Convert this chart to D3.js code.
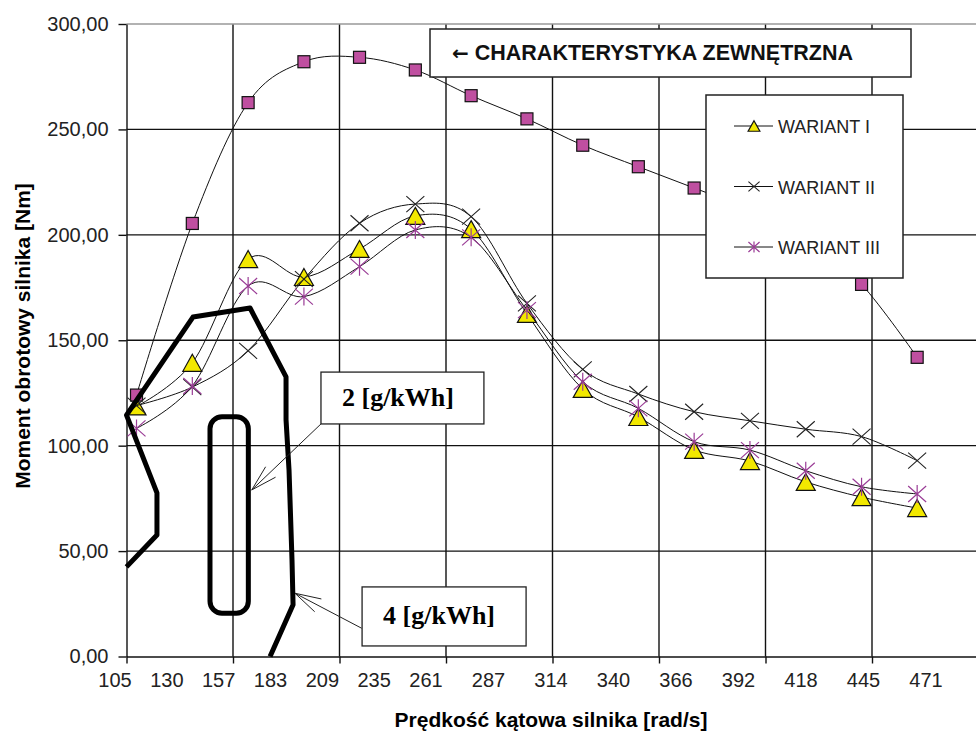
<!DOCTYPE html>
<html lang="pl">
<head>
<meta charset="UTF-8">
<title>Moment obrotowy silnika</title>
<script src="https://cdn.jsdelivr.net/npm/d3@7"></script>
<style>
  body { margin: 0; background: #fff; }
  svg { display: block; font-family: "Liberation Sans", Arial, sans-serif; }
</style>
</head>
<body>
<script>
// predkosc katowa [rad/s] (1000..4500 obr/min)
const speeds = [104.7, 130.9, 157.1, 183.3, 209.4, 235.6, 261.8, 288.0, 314.2, 340.3, 366.5, 392.7, 418.9, 445.1, 471.2];
const speedLabels = ["105", "130", "157", "183", "209", "235", "261", "287", "314", "340", "366", "392", "418", "445", "471"];

// moment obrotowy [Nm]
const zewnetrzna = [124.0, 205.4, 262.7, 282.1, 284.2, 278.2, 266.0, 255.0, 242.5, 232.3, 222.2, 212.0, 198.5, 176.5, 141.9];
const wariant1 = [118.6, 139.3, 188.5, 180.0, 193.3, 209.0, 202.7, 162.5, 126.9, 113.6, 98.0, 92.7, 82.8, 75.6, 70.4];
const wariant2 = [119.0, 127.8, 145.0, 179.0, 205.5, 214.6, 208.6, 167.5, 136.2, 124.5, 116.1, 111.8, 107.8, 104.3, 92.9];
const wariant3 = [108.2, 128.3, 175.7, 170.7, 184.9, 202.3, 198.8, 164.3, 130.3, 117.7, 101.9, 97.9, 88.1, 80.5, 77.1];

const yTicks = [0, 50, 100, 150, 200, 250, 300];
const xGrid = [100, 150, 200, 250, 300, 350, 400, 450];

// izolinie zuzycia [rad/s, Nm]
const iso4 = [[100, 42.5], [114.3, 57.6], [114.3, 77.6], [100, 114.5], [131.2, 161.0], [158.0, 165.3],
              [174.9, 132.6], [174.9, 112.3], [176.3, 88.5], [177.7, 45.8], [178.2, 24.5], [167.4, 0]];
const iso2 = [[139.2, 20.5], [157.2, 113.7]];

// opisy izolinii: ramka [x0, x1, yTop, yBottom], strzalka [start, koniec]
const notes = ["2 [g/kWh]", "4 [g/kWh]"];
const noteBoxes = [[191.3, 267.8, 134.9, 110.3], [210.6, 287.6, 33.0, 5.0]];
const noteArrows = [[[191.3, 110.3], [158.8, 79.0]], [[210.4, 13.4], [179.1, 30.0]]];

const W = 976, H = 731;
const svg = d3.select("body").append("svg").attr("width", W).attr("height", H);

const x = d3.scaleLinear().domain([100, 500]).range([126.5, 978.5]);
const y = d3.scaleLinear().domain([0, 300]).range([656.5, 24]);
const labelX = d3.scaleLinear().domain([0, 6, 14]).range([115, 426, 926]);

const fmt = d3.formatLocale({decimal: ",", thousands: " ", grouping: [3], currency: ["", ""]}).format(".2f");

// siatka
svg.append("g").selectAll("line")
  .data(yTicks.filter(d => d > 0 && d < 300))
  .join("line")
  .attr("x1", x(100)).attr("x2", x(500))
  .attr("y1", d => y(d)).attr("y2", d => y(d))
  .attr("stroke", "#111").attr("stroke-width", 1.4);

svg.append("g").selectAll("line")
  .data(xGrid.slice(1))
  .join("line")
  .attr("x1", d => x(d)).attr("x2", d => x(d))
  .attr("y1", y(0)).attr("y2", y(300))
  .attr("stroke", "#111").attr("stroke-width", 1.4);

svg.append("line")
  .attr("x1", x(100)).attr("x2", x(500))
  .attr("y1", y(300)).attr("y2", y(300))
  .attr("stroke", "#999").attr("stroke-width", 1.5);

// osie
const yAxis = svg.append("g")
  .attr("transform", `translate(${x(100)},0)`)
  .call(d3.axisLeft(y).tickValues(yTicks).tickSize(8).tickSizeOuter(0).tickPadding(10).tickFormat(fmt));
yAxis.select(".domain").attr("stroke", "#111").attr("stroke-width", 1.4);
yAxis.selectAll(".tick line").attr("stroke", "#111").attr("stroke-width", 1.4);
yAxis.selectAll(".tick text").attr("font-size", 20).attr("fill", "#222")
  .attr("font-family", "Liberation Sans, Arial, sans-serif");

const xAxis = svg.append("g")
  .attr("transform", `translate(0,${y(0)})`)
  .call(d3.axisBottom(x).tickValues(xGrid).tickSize(7).tickSizeOuter(0).tickFormat(""));
xAxis.select(".domain").attr("stroke", "#111").attr("stroke-width", 1.4);
xAxis.selectAll(".tick line").attr("stroke", "#111").attr("stroke-width", 1.4);

svg.append("g").selectAll("text")
  .data(speedLabels)
  .join("text")
  .attr("x", (d, i) => labelX(i))
  .attr("y", 687)
  .attr("text-anchor", "middle")
  .attr("font-size", 20).attr("fill", "#222")
  .text(d => d);

// tytuly osi
svg.append("text")
  .attr("transform", `translate(30,336) rotate(-90)`)
  .attr("text-anchor", "middle")
  .attr("font-size", 21).attr("font-weight", "bold")
  .text("Moment obrotowy silnika [Nm]");

svg.append("text")
  .attr("x", 551).attr("y", 727)
  .attr("text-anchor", "middle")
  .attr("font-size", 21).attr("font-weight", "bold")
  .text("Prędkość kątowa silnika [rad/s]");

// markery
function marker(g, type, s) {
  if (type === "square") {
    g.append("rect").attr("x", -6 * s).attr("y", -6 * s).attr("width", 12 * s).attr("height", 12 * s)
      .attr("fill", "#BF4FA0").attr("stroke", "#111").attr("stroke-width", 1.2);
  } else if (type === "triangle") {
    g.append("path")
      .attr("d", `M0,${-8.5 * s}L${9.5 * s},${8.5 * s}L${-9.5 * s},${8.5 * s}Z`)
      .attr("fill", "#F2E800").attr("stroke", "#111").attr("stroke-width", 1.2);
  } else if (type === "cross") {
    g.append("path")
      .attr("d", `M${-9 * s},${-8 * s}L${9 * s},${8 * s}M${-9 * s},${8 * s}L${9 * s},${-8 * s}`)
      .attr("stroke", "#222").attr("stroke-width", 1.1);
  } else {
    g.append("path")
      .attr("d", `M${-9 * s},${-8 * s}L${9 * s},${8 * s}M${-9 * s},${8 * s}L${9 * s},${-8 * s}M0,${-9 * s}L0,${9 * s}`)
      .attr("stroke", "#9A3C96").attr("stroke-width", 1.2);
  }
}

const line = d3.line()
  .x((d, i) => x(speeds[i]))
  .y(d => y(d))
  .curve(d3.curveCardinal.tension(0));

const series = [
  {name: "CHARAKTERYSTYKA ZEWNĘTRZNA", values: zewnetrzna, type: "square"},
  {name: "WARIANT I", values: wariant1, type: "triangle"},
  {name: "WARIANT II", values: wariant2, type: "cross"},
  {name: "WARIANT III", values: wariant3, type: "star"}
];

series.forEach(s => {
  svg.append("path")
    .attr("d", line(s.values))
    .attr("fill", "none").attr("stroke", "#111").attr("stroke-width", 1);
  svg.append("g").selectAll("g")
    .data(s.values)
    .join("g")
    .attr("transform", (d, i) => `translate(${x(speeds[i])},${y(d)})`)
    .each(function() { marker(d3.select(this), s.type, 1); });
});

// legenda
const leg = svg.append("g");
leg.append("rect").attr("x", 706).attr("y", 95).attr("width", 197).attr("height", 183)
  .attr("fill", "#fff").attr("stroke", "#222").attr("stroke-width", 1.5);
series.slice(1).forEach((s, i) => {
  const ly = 126 + i * 60.5;
  leg.append("line").attr("x1", 734).attr("x2", 773).attr("y1", ly).attr("y2", ly)
    .attr("stroke", "#111").attr("stroke-width", 1);
  marker(leg.append("g").attr("transform", `translate(754,${ly})`), s.type, 0.62);
  leg.append("text").attr("x", 778).attr("y", ly + 7)
    .attr("font-size", 18).attr("fill", "#222").text(s.name);
});

const title = svg.append("g");
title.append("rect").attr("x", 430).attr("y", 29).attr("width", 481).attr("height", 48)
  .attr("fill", "#fff").attr("stroke", "#222").attr("stroke-width", 1.5);
const titleText = title.append("text").attr("x", 452).attr("y", 60)
  .attr("font-weight", "bold").attr("fill", "#111");
titleText.append("tspan").attr("font-family", "DejaVu Sans, sans-serif").attr("font-size", 20).text("←");
titleText.append("tspan").attr("dx", 6).attr("font-size", 21.5).text(series[0].name);

// izolinie
svg.append("path")
  .attr("d", d3.line().x(d => x(d[0])).y(d => y(d[1]))(iso4))
  .attr("fill", "none").attr("stroke", "#000").attr("stroke-width", 5)
  .attr("stroke-linejoin", "round");

svg.append("rect")
  .attr("x", x(iso2[0][0])).attr("y", y(iso2[1][1]))
  .attr("width", x(iso2[1][0]) - x(iso2[0][0]))
  .attr("height", y(iso2[0][1]) - y(iso2[1][1]))
  .attr("rx", 12)
  .attr("fill", "none").attr("stroke", "#000").attr("stroke-width", 5);

// opisy ze strzalkami
notes.forEach((t, i) => {
  const b = noteBoxes[i];
  const a = noteArrows[i];
  const x0 = x(a[0][0]), y0 = y(a[0][1]), x1 = x(a[1][0]), y1 = y(a[1][1]);
  const ang = Math.atan2(y0 - y1, x0 - x1);
  const len = 27, spread = 0.27;
  svg.append("path")
    .attr("d", `M${x0},${y0}L${x1},${y1}` +
      `M${x1 + len * Math.cos(ang - spread)},${y1 + len * Math.sin(ang - spread)}L${x1},${y1}` +
      `L${x1 + len * Math.cos(ang + spread)},${y1 + len * Math.sin(ang + spread)}`)
    .attr("fill", "none").attr("stroke", "#222").attr("stroke-width", 1);
  svg.append("rect")
    .attr("x", x(b[0])).attr("y", y(b[2]))
    .attr("width", x(b[1]) - x(b[0])).attr("height", y(b[3]) - y(b[2]))
    .attr("fill", "#fff").attr("stroke", "#222").attr("stroke-width", 1.3);
  svg.append("text")
    .attr("x", x(b[0]) + 21)
    .attr("y", (y(b[2]) + y(b[3])) / 2 + 8)
    .attr("font-family", "Liberation Serif, Times New Roman, serif")
    .attr("font-size", 26).attr("font-weight", "bold")
    .text(t);
});
</script>
</body>
</html>
